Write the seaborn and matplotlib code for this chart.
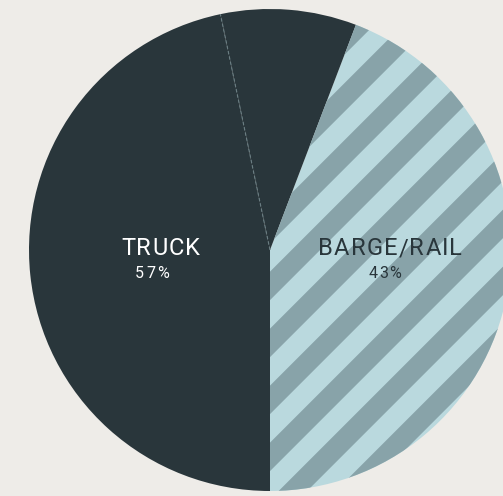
import numpy as np
import seaborn as sns
import matplotlib
matplotlib.use('Agg')
import matplotlib.pyplot as plt
from matplotlib.patches import Polygon

# 数据：驳船/铁路 + 卡车（卡车分两段，中间有虚线）
segments = ['BARGE/RAIL', 'TRUCK_A', 'TRUCK_B']
shares = [44.2, 9.1, 46.7]
labels = ['TRUCK', 'BARGE/RAIL']
pct_labels = ['57%', '43%']

bg = '#eeece8'
dark = '#29363b'
light = '#bad9de'
stripe = '#88a3a9'

sns.set_theme(style='white')
plt.rcParams['font.family'] = ['Roboto', 'DejaVu Sans']

fig = plt.figure(figsize=(5.03, 4.96), dpi=100, facecolor=bg)
ax = fig.add_axes([0, 0, 1, 1])
ax.set_facecolor(bg)

R = 241  # 半径（像素）

wedges, _ = ax.pie(shares, colors=[light, dark, dark], startangle=270,
                   counterclock=True, radius=1,
                   wedgeprops=dict(linewidth=0, antialiased=True))

# 斜条纹，裁剪到驳船扇区
period = 0.2365
c0 = -0.208
for k in range(-12, 13):
    c1 = c0 + k * period
    c2 = c1 + period / 2
    band = Polygon([(-1.3, -1.3 + c1), (1.3, 1.3 + c1), (1.3, 1.3 + c2), (-1.3, -1.3 + c2)],
                   closed=True, facecolor=stripe, edgecolor='none')
    ax.add_patch(band)
    band.set_clip_path(wedges[0])

# 卡车两段之间的虚线
th = np.deg2rad(wedges[1].theta2)
ax.plot([0, np.cos(th)], [0, np.sin(th)], color='#6b7f84', lw=0.8,
        ls=(0, (3, 2)), zorder=5)

ax.set_aspect('auto')
ax.set_xlim(-270 / R, 233 / R)
ax.set_ylim(-246 / R, 250 / R)
ax.axis('off')

renderer = fig.canvas.get_renderer()


def tracked(cx, y, s, size, color, track):
    # 带字距的文字，cx 为中心（数据坐标），track 为字间距（像素）
    widths = []
    for ch in s:
        t = ax.text(0, 0, ch, fontsize=size)
        widths.append(t.get_window_extent(renderer).width)
        t.remove()
    total = sum(widths) + track * (len(s) - 1)
    x = cx - total / 2 / R
    for ch, w in zip(s, widths):
        ax.text(x, y, ch, fontsize=size, color=color, ha='left', va='baseline')
        x += (w + track) / R


tracked(-0.454, -0.021, labels[0], 17, 'white', 1.2)
tracked(-0.490, -0.116, pct_labels[0], 11.5, 'white', 1.6)
tracked(0.498, -0.021, labels[1], 17, dark, 1.2)
tracked(0.477, -0.116, pct_labels[1], 11.5, dark, 1.6)

fig.savefig('out.png', dpi=100, facecolor=bg)
